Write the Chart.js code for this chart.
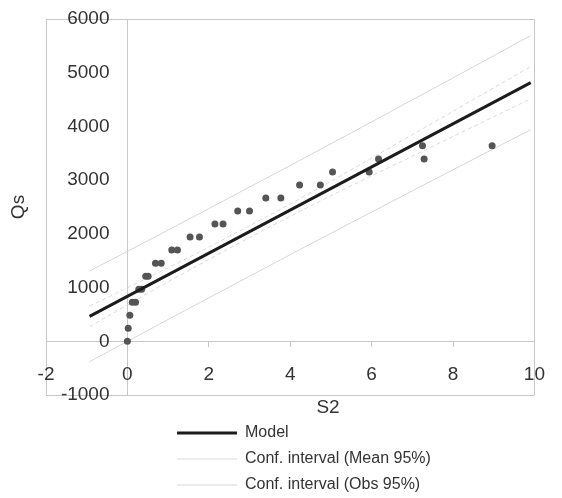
<!DOCTYPE html>
<html>
<head>
<meta charset="utf-8">
<script src="https://cdn.jsdelivr.net/npm/chart.js@4/dist/chart.umd.min.js"></script>
<style>
  html, body { margin: 0; padding: 0; background: #ffffff; }
  canvas { display: block; }
</style>
</head>
<body>
<canvas id="c" width="562" height="498"></canvas>
<script>
// ---- data ----
const s2Values = [0.00, 0.02, 0.06, 0.12, 0.20, 0.28, 0.35, 0.45, 0.51, 0.69, 0.83, 1.09, 1.23, 1.54, 1.77,
                  2.15, 2.35, 2.71, 3.00, 3.40, 3.77, 4.23, 4.74, 5.04, 5.94, 6.17, 7.29, 7.25, 8.96];
const qsValues = [0, 243, 485, 728, 728, 970, 970, 1213, 1213, 1455, 1455, 1698, 1698, 1940, 1940,
                  2183, 2183, 2425, 2425, 2668, 2668, 2910, 2910, 3153, 3153, 3395, 3395, 3638, 3638];

const modelX = [-0.93, 9.91];
const modelY = [463, 4815];

const ciX        = [-0.93, 0, 1, 2, 3, 4, 5, 6, 7, 8, 9, 9.91];
const meanUpperY = [653, 996, 1368, 1754, 2151, 2557, 2979, 3410, 3847, 4283, 4720, 5115];
const meanLowerY = [273, 676, 1108, 1524, 1931, 2327, 2709, 3080, 3447, 3813, 4180, 4515];
const obsUpperY  = [1308, 1674, 2071, 2469, 2871, 3272, 3678, 4084, 4494, 4903, 5316, 5691];
const obsLowerY  = [-382, -2, 405, 809, 1211, 1612, 2010, 2406, 2800, 3193, 3584, 3939];

const xTickMin = -2, xTickMax = 10, xTickStep = 2;
const yTickMin = -1000, yTickMax = 6000, yTickStep = 1000;

const seriesNames = ['Model', 'Conf. interval (Mean 95%)', 'Conf. interval (Obs 95%)', 'Qs'];
const xTitle = 'S2';
const yTitle = 'Qs';

// ---- build ----
const pts = (xs, ys) => xs.map((x, i) => ({x: x, y: ys[i]}));
const FONT = '"Liberation Sans", Arial, sans-serif';
const GRID = '#c8c8c8';

const titlesPlugin = {
  id: 'axisTitles',
  afterDraw(chart) {
    const ctx = chart.ctx;
    ctx.save();
    ctx.fillStyle = '#333';
    ctx.font = '19px ' + FONT;
    ctx.textAlign = 'center';
    ctx.textBaseline = 'middle';
    ctx.fillText(xTitle, 328, 408);
    ctx.translate(19, 207);
    ctx.rotate(-Math.PI / 2);
    ctx.fillText(yTitle, 0, 0);
    ctx.restore();
  }
};

const legendPlace = {
  id: 'legendPlace',
  afterLayout(chart) {
    const lg = chart.legend;
    if (!lg) return;
    const w = lg.width;
    lg.left = 167;
    lg.top = 415;
    lg.right = 167 + w;
    lg.bottom = 415 + 300;
  }
};

new Chart(document.getElementById('c'), {
  type: 'scatter',
  data: {
    datasets: [
      { label: seriesNames[0], data: pts(modelX, modelY), showLine: true,
        borderColor: '#1c1c1c', backgroundColor: '#1c1c1c', borderWidth: 3, pointRadius: 0, order: 1 },
      { label: seriesNames[1], data: pts(ciX, meanUpperY), showLine: true, tension: 0.3,
        borderColor: '#dadada', backgroundColor: '#dadada', borderWidth: 1, borderDash: [4, 3], pointRadius: 0, order: 3 },
      { label: seriesNames[1] + ' ', data: pts(ciX, meanLowerY), showLine: true, tension: 0.3,
        borderColor: '#dadada', backgroundColor: '#dadada', borderWidth: 1, borderDash: [4, 3], pointRadius: 0, order: 3 },
      { label: seriesNames[2], data: pts(ciX, obsUpperY), showLine: true, tension: 0.3,
        borderColor: '#d6d6d6', backgroundColor: '#d6d6d6', borderWidth: 1, pointRadius: 0, order: 3 },
      { label: seriesNames[2] + ' ', data: pts(ciX, obsLowerY), showLine: true, tension: 0.3,
        borderColor: '#d6d6d6', backgroundColor: '#d6d6d6', borderWidth: 1, pointRadius: 0, order: 3 },
      { label: seriesNames[3], data: pts(s2Values, qsValues), showLine: false,
        backgroundColor: '#555555', borderColor: '#555555', borderWidth: 0, pointRadius: 3.5, order: 2 }
    ]
  },
  options: {
    responsive: false,
    animation: false,
    devicePixelRatio: 1,
    layout: { padding: { left: 46, right: 24, top: 19, bottom: 103 } },
    plugins: {
      tooltip: { enabled: false },
      title: { display: false },
      legend: {
        position: 'chartArea',
        align: 'start',
        labels: {
          usePointStyle: true,
          pointStyle: 'line',
          pointStyleWidth: 60,
          padding: 10,
          color: '#333',
          font: { family: FONT, size: 16 },
          filter: (item) => [0, 1, 3].includes(item.datasetIndex)
        }
      }
    },
    scales: {
      x: {
        type: 'linear',
        position: { y: 0 },
        min: xTickMin, max: xTickMax,
        ticks: { stepSize: xTickStep, color: '#333', font: { family: FONT, size: 19 }, padding: 17, maxRotation: 0,
                 format: { useGrouping: false } },
        grid: {
          color: (c) => (c.tick && [xTickMin, 0, xTickMax].includes(c.tick.value)) ? GRID : 'rgba(0,0,0,0)',
          tickColor: GRID, tickLength: 5, drawTicks: true
        },
        border: { display: true, color: GRID }
      },
      y: {
        type: 'linear',
        position: { x: -0.44 },
        min: yTickMin, max: yTickMax,
        ticks: { stepSize: yTickStep, color: '#333', font: { family: FONT, size: 19 },
                 format: { useGrouping: false } },
        grid: {
          color: (c) => (c.tick && [yTickMin, 0, yTickMax].includes(c.tick.value)) ? GRID : 'rgba(0,0,0,0)',
          drawTicks: false
        },
        border: { display: false }
      }
    }
  },
  plugins: [titlesPlugin, legendPlace]
});
</script>
</body>
</html>
